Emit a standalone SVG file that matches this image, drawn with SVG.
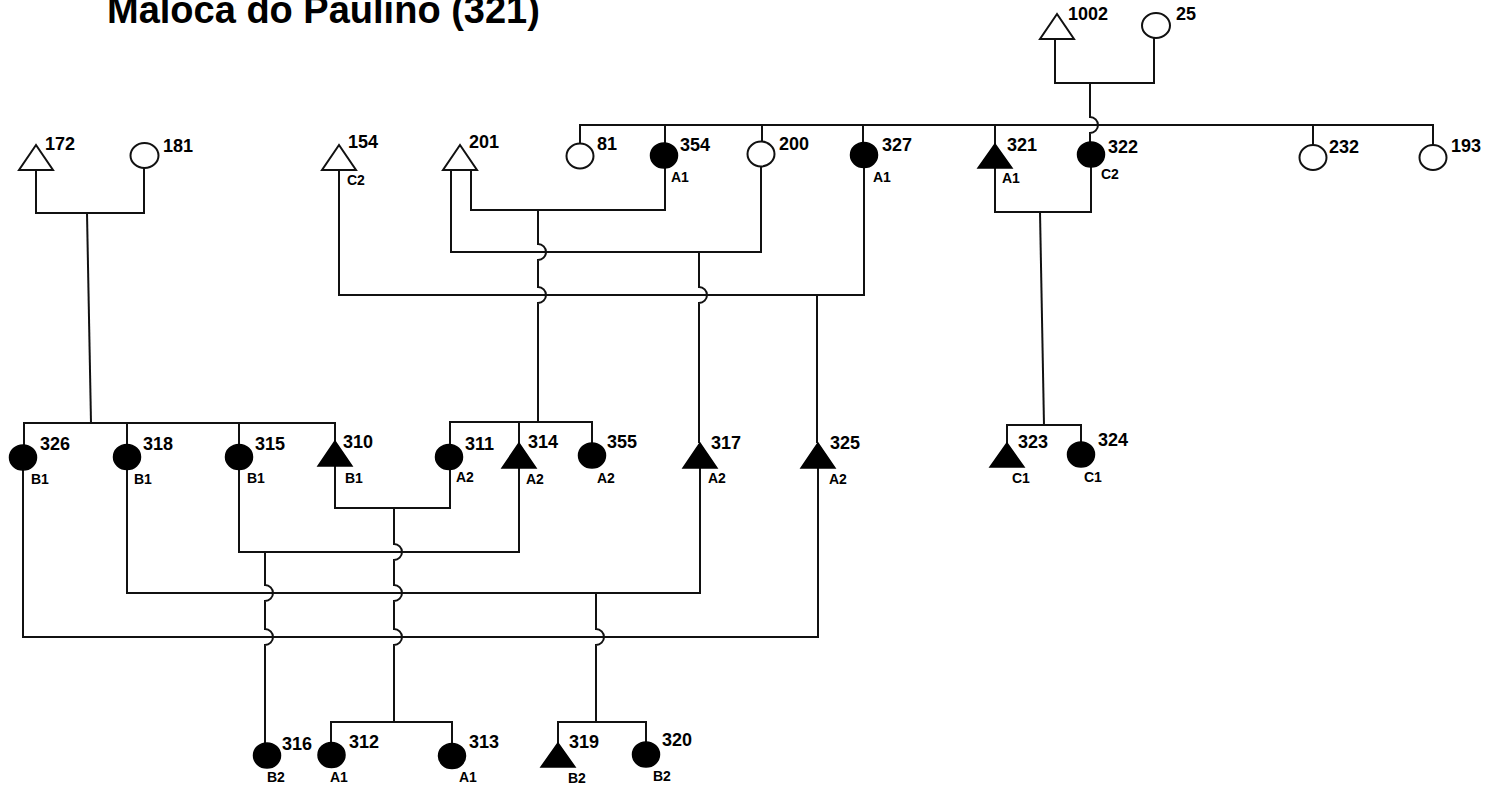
<svg xmlns="http://www.w3.org/2000/svg" width="1489" height="790" viewBox="0 0 1489 790">
<style>
.bg{fill:#ffffff}
.ln{fill:none;stroke:#111;stroke-width:2;stroke-linejoin:miter}
.o{fill:#fff;stroke:#111;stroke-width:2}
.f{fill:#000;stroke:#000;stroke-width:1.5}
.n{font-family:"Liberation Sans",Arial,sans-serif;font-weight:bold;font-size:18px;fill:#000}
.s{font-family:"Liberation Sans",Arial,sans-serif;font-weight:bold;font-size:14px;fill:#000}
.t{font-family:"Liberation Sans",Arial,sans-serif;font-weight:bold;font-size:38px;fill:#000}
</style>
<rect class="bg" x="0" y="0" width="1489" height="790"/>
<text class="t" x="107" y="23">Maloca do Paulino (321)</text>
<g id="connectors">
<path class="ln" d="M1055,39 V83 H1154 V38"/>
<path class="ln" d="M1090,83 V117 A8,8 0 0 1 1090,133 V142"/>
<path class="ln" d="M580,143 V125 H1433 V145 M665,125 V143 M762,125 V141.5 M863,125 V142.5 M995,125 V144 M1313,125 V145"/>
<path class="ln" d="M36,170 V213 H144 V168"/>
<path class="ln" d="M87,213 L91,423"/>
<path class="ln" d="M24,445 V423 H335 V441 M127,423 V444.5 M239,423 V444.5"/>
<path class="ln" d="M471,170 V210 H665 V168"/>
<path class="ln" d="M538,210 V244 A8,8 0 0 1 538,260 V287 A8,8 0 0 1 538,303 V422"/>
<path class="ln" d="M451,170 V252 H761 V166.5"/>
<path class="ln" d="M699,252 V287 A8,8 0 0 1 699,303 V443"/>
<path class="ln" d="M339,170 V295 H864 V167.5"/>
<path class="ln" d="M817,295 V443"/>
<path class="ln" d="M995,168 V212 H1091 V167"/>
<path class="ln" d="M1040,212 L1044,425"/>
<path class="ln" d="M1007,443 V425 H1081 V442"/>
<path class="ln" d="M450,444.5 V422 H592 V443 M519,422 V443"/>
<path class="ln" d="M335,466 V508 H450 V469.5"/>
<path class="ln" d="M394,508 V544 A8,8 0 0 1 394,560 V585 A8,8 0 0 1 394,601 V629 A8,8 0 0 1 394,645 V722"/>
<path class="ln" d="M239,469.5 V552 H519 V468"/>
<path class="ln" d="M265,552 V585 A8,8 0 0 1 265,601 V629 A8,8 0 0 1 265,645 V743"/>
<path class="ln" d="M127,469.5 V593 H700 V468"/>
<path class="ln" d="M596,593 V629 A8,8 0 0 1 596,645 V722"/>
<path class="ln" d="M23,470 V637 H818 V468"/>
<path class="ln" d="M331,742.5 V722 H452 V743.5"/>
<path class="ln" d="M558,743 V722 H646 V742"/>
</g>
<g id="n1002"><polygon class="o" points="1057,14 1040,39 1074,39"/><text class="n" x="1068" y="20">1002</text></g>
<g id="n25"><ellipse class="o" cx="1156" cy="25.5" rx="14" ry="12.5"/><text class="n" x="1176" y="20">25</text></g>
<g id="n172"><polygon class="o" points="36,145 19,170 53,170"/><text class="n" x="45" y="150">172</text></g>
<g id="n181"><ellipse class="o" cx="144.5" cy="155.5" rx="14" ry="12.5"/><text class="n" x="163" y="152">181</text></g>
<g id="n154"><polygon class="o" points="339,145 322,170 356,170"/><text class="n" x="348" y="148">154</text><text class="s" x="347" y="185">C2</text></g>
<g id="n201"><polygon class="o" points="460,145 443,170 477,170"/><text class="n" x="469" y="148">201</text></g>
<g id="n81"><ellipse class="o" cx="580" cy="156" rx="13.5" ry="12.5"/><text class="n" x="597" y="150">81</text></g>
<g id="n354"><ellipse class="f" cx="664" cy="155.5" rx="13.5" ry="12.5"/><text class="n" x="680" y="151">354</text><text class="s" x="671" y="182">A1</text></g>
<g id="n200"><ellipse class="o" cx="761" cy="154" rx="13.5" ry="12.5"/><text class="n" x="779" y="150">200</text></g>
<g id="n327"><ellipse class="f" cx="864" cy="155" rx="13.5" ry="12.5"/><text class="n" x="882" y="151">327</text><text class="s" x="873" y="182">A1</text></g>
<g id="n321"><polygon class="f" points="995,144 978,168 1012,168"/><text class="n" x="1007" y="151">321</text><text class="s" x="1002" y="183">A1</text></g>
<g id="n322"><ellipse class="f" cx="1091" cy="154.5" rx="13.5" ry="12.5"/><text class="n" x="1108" y="153">322</text><text class="s" x="1101" y="179">C2</text></g>
<g id="n232"><ellipse class="o" cx="1313" cy="157.5" rx="13.5" ry="12.5"/><text class="n" x="1329" y="153">232</text></g>
<g id="n193"><ellipse class="o" cx="1433" cy="157.5" rx="13.5" ry="12.5"/><text class="n" x="1451" y="152">193</text></g>
<g id="n326"><ellipse class="f" cx="23" cy="457.5" rx="13.5" ry="12.5"/><text class="n" x="40" y="450">326</text><text class="s" x="31" y="484">B1</text></g>
<g id="n318"><ellipse class="f" cx="127" cy="457" rx="13.5" ry="12.5"/><text class="n" x="143" y="450">318</text><text class="s" x="134" y="484">B1</text></g>
<g id="n315"><ellipse class="f" cx="239" cy="457" rx="13.5" ry="12.5"/><text class="n" x="255" y="450">315</text><text class="s" x="247" y="483">B1</text></g>
<g id="n310"><polygon class="f" points="335,441 318,466 352,466"/><text class="n" x="343" y="448">310</text><text class="s" x="345" y="483">B1</text></g>
<g id="n311"><ellipse class="f" cx="449" cy="457" rx="13.5" ry="12.5"/><text class="n" x="465" y="450">311</text><text class="s" x="456" y="482">A2</text></g>
<g id="n314"><polygon class="f" points="519,443 502,468 536,468"/><text class="n" x="528" y="448">314</text><text class="s" x="526" y="484">A2</text></g>
<g id="n355"><ellipse class="f" cx="592" cy="455.5" rx="13.5" ry="12.5"/><text class="n" x="607" y="448">355</text><text class="s" x="597" y="483">A2</text></g>
<g id="n317"><polygon class="f" points="700,443 683,468 717,468"/><text class="n" x="711" y="449">317</text><text class="s" x="708" y="483">A2</text></g>
<g id="n325"><polygon class="f" points="818,443 801,468 835,468"/><text class="n" x="830" y="449">325</text><text class="s" x="829" y="484">A2</text></g>
<g id="n323"><polygon class="f" points="1007,443 990,467 1024,467"/><text class="n" x="1018" y="448">323</text><text class="s" x="1012" y="483">C1</text></g>
<g id="n324"><ellipse class="f" cx="1081" cy="454.5" rx="13.5" ry="12.5"/><text class="n" x="1098" y="446">324</text><text class="s" x="1084" y="482">C1</text></g>
<g id="n316"><ellipse class="f" cx="267" cy="755.5" rx="13.5" ry="12.5"/><text class="n" x="282" y="750">316</text><text class="s" x="267" y="782">B2</text></g>
<g id="n312"><ellipse class="f" cx="331.5" cy="755" rx="13.5" ry="12.5"/><text class="n" x="349" y="748">312</text><text class="s" x="330" y="782">A1</text></g>
<g id="n313"><ellipse class="f" cx="452" cy="756" rx="13.5" ry="12.5"/><text class="n" x="469" y="748">313</text><text class="s" x="459" y="782">A1</text></g>
<g id="n319"><polygon class="f" points="558,743 541,767 575,767"/><text class="n" x="569" y="748">319</text><text class="s" x="568" y="783">B2</text></g>
<g id="n320"><ellipse class="f" cx="646" cy="754.5" rx="13.5" ry="12.5"/><text class="n" x="662" y="746">320</text><text class="s" x="653" y="781">B2</text></g>
</svg>
